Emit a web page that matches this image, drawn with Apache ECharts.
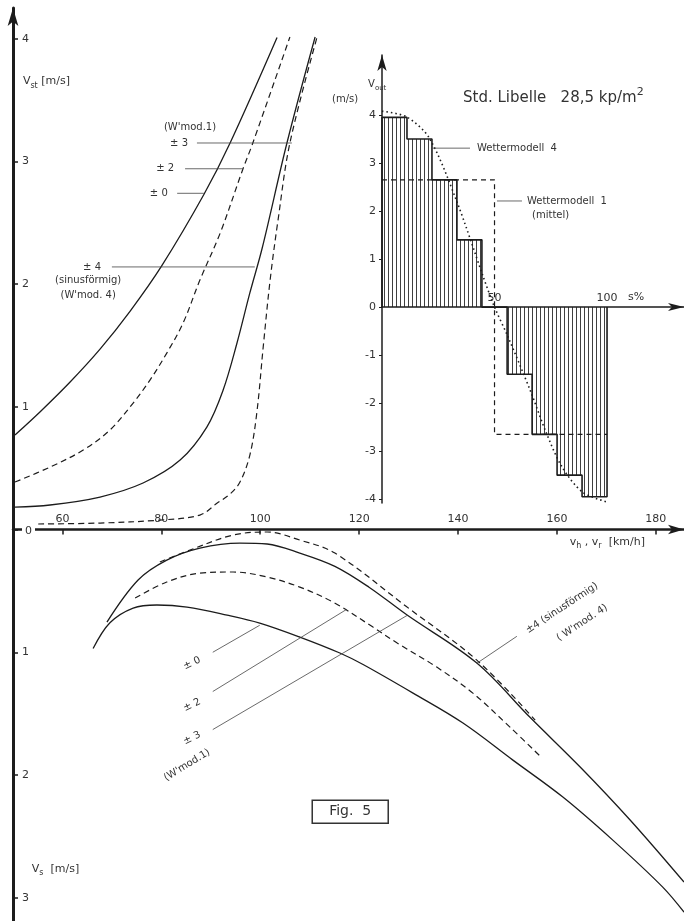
<!DOCTYPE html>
<html><head><meta charset="utf-8">
<script src="https://cdn.jsdelivr.net/npm/echarts@6/dist/echarts.min.js"></script>
<style>html,body{margin:0;padding:0;background:#fff}#c{width:684px;height:921px}</style>
</head><body><div id="c"></div>
<script>
// ---------------- data ----------------
// main chart: x = v [km/h]; upper half Vst [m/s] (positive), lower half Vs [m/s] (plotted negative)
const xTicks = [60, 80, 100, 120, 140, 160, 180];
const yTicksMain = [-3, -2, -1, 0, 1, 2, 3, 4];

// upper curves: Vst
const vst0 = [[50.4,0.77],[55.5,0.96],[61.5,1.20],[67.6,1.47],[73.7,1.78],[80.1,2.15],[88.6,2.73],[93.9,3.15],[103.4,4.01]];
const vst2 = [[50.4,0.387],[57.5,0.509],[64.2,0.648],[69.6,0.811],[74.3,1.031],[77.7,1.218],[81.1,1.438],[84.4,1.683],[87.8,2.033],[91.9,2.416],[96.5,2.938],[98.5,3.150],[106.0,4.014]];
const vst4 = [[50.4,0.183],[57.5,0.200],[67.6,0.265],[76.3,0.379],[83.8,0.566],[89.2,0.835],[92.5,1.137],[95.3,1.520],[97.9,1.928],[100.4,2.294],[105.4,3.150],[111.1,4.014]];
const vst3 = [[55.1,0.045],[67.6,0.053],[79.7,0.077],[87.8,0.118],[91.3,0.216],[93.9,0.29],[95.9,0.387],[97.9,0.607],[99.3,0.949],[100.6,1.487],[102.0,2.033],[103.6,2.522],[106.0,3.150],[111.5,4.014]];

// lower curves: Vs (negative = downward)
const vs0 = [[66.2,-0.97],[69.6,-0.76],[74.3,-0.64],[79.1,-0.615],[85.2,-0.632],[93.3,-0.697],[99.9,-0.762],[108.0,-0.876],[116.1,-1.006],[120.8,-1.10],[130.9,-1.333],[141.0,-1.577],[151.1,-1.879],[161.2,-2.180],[171.3,-2.531],[181.4,-2.914],[185.7,-3.118]];
const vs4 = [[69.0,-0.754],[75.3,-0.411],[81.1,-0.249],[87.8,-0.151],[95.9,-0.110],[101.4,-0.118],[108.0,-0.192],[115.1,-0.30],[122.0,-0.47],[129.7,-0.697],[143.8,-1.088],[154.5,-1.528],[164.7,-1.935],[174.8,-2.367],[185.7,-2.873]];
const vs2 = [[74.7,-0.558],[81.1,-0.428],[87.8,-0.355],[94.5,-0.346],[101.4,-0.387],[108.0,-0.469],[114.7,-0.591],[122.8,-0.795],[127.7,-0.925],[135.7,-1.121],[143.0,-1.333],[150.5,-1.610],[157.0,-1.862]];
const vs3 = [[79.7,-0.265],[85.8,-0.167],[94.5,-0.045],[101.4,-0.02],[108.0,-0.086],[115.1,-0.192],[129.7,-0.632],[143.8,-1.064],[155.6,-1.553]];

// inset: Vout [m/s] versus s [%]
const insetYTicks = [-4, -3, -2, -1, 0, 1, 2, 3, 4];
const insetXTicks = [50, 100];
const wm4Edges  = [0, 11.1, 22.2, 33.3, 44.4, 55.6, 66.7, 77.8, 88.9, 100];
const wm4Levels = [3.95, 3.5, 2.65, 1.4, 0, -1.4, -2.65, -3.5, -3.95];
const wm1S = [0, 50, 100];
const wm1V = [2.65, -2.65, -2.65];
const sinS = [0, 11, 21, 33, 45, 50, 56, 66, 73, 80, 89, 100];
const sinV = [4.08, 3.96, 3.52, 2.23, 0.63, 0, -0.62, -1.75, -2.62, -3.33, -3.85, -4.06];

// ---------------- build ----------------
const FONT = '"DejaVu Sans", "Liberation Sans", sans-serif';
const INK = '#1c1c1c';
const TXT = '#333';

const W = 684, H = 921;
const G0 = {left:13, right:0, top:8, bottom:0};
const G1 = {left:382, right:0, top:55, bottom:418};
const Y0 = {min:-3.19, max:4.25};
const Y1 = {min:-4.08, max:5.25};
// shift the x axes up to the zero line of their y axes
const off0 = -((0 - Y0.min) / (Y0.max - Y0.min)) * (H - G0.top - G0.bottom);
const off1 = -((0 - Y1.min) / (Y1.max - Y1.min)) * (H - G1.top - G1.bottom);

// step outline for Wettermodell 4 (step 'end')
const wm4Data = [[wm4Edges[0], 0]];
for (let i = 0; i < wm4Levels.length; i++) wm4Data.push([wm4Edges[i], wm4Levels[i]]);
wm4Data.push([wm4Edges[wm4Edges.length - 1], wm4Levels[wm4Levels.length - 1]]);
wm4Data.push([wm4Edges[wm4Edges.length - 1], 0]);
const wm1Data = wm1S.map((s, i) => [s, wm1V[i]]);
const sinData = sinS.map((s, i) => [s, sinV[i]]);

// vertical hatching pattern
const pc = document.createElement('canvas');
pc.width = 4; pc.height = 4;
const pg = pc.getContext('2d');
pg.fillStyle = 'rgba(30,30,30,0.85)';
pg.fillRect(0, 0, 1, 4);

const solid = (data) => ({type:'line', xAxisIndex:0, yAxisIndex:0, data, showSymbol:false, smooth:0.35,
  lineStyle:{color:INK, width:1.3}, z:3});
const dashed = (data) => ({type:'line', xAxisIndex:0, yAxisIndex:0, data, showSymbol:false, smooth:0.35,
  lineStyle:{color:INK, width:1.2, type:[6,4]}, z:3});

const option = {
  backgroundColor: '#fff',
  animation: false,
  grid: [G0, G1],
  xAxis: [
    {type:'value', gridIndex:0, min:50, max:185.7, position:'bottom', offset:off0,
      axisLine:{show:true, onZero:false, symbol:['none','arrow'], symbolSize:[7,16], lineStyle:{color:INK, width:2.5}},
      axisTick:{show:true, inside:false, length:5, customValues:xTicks, lineStyle:{color:INK, width:1.5}},
      axisLabel:{show:true, inside:true, customValues:xTicks, margin:5, fontSize:11, color:TXT, fontFamily:FONT},
      splitLine:{show:false}},
    {type:'value', gridIndex:1, min:0, max:134.2, position:'bottom', offset:off1,
      axisLine:{show:true, onZero:false, symbol:['none','arrow'], symbolSize:[6,16], lineStyle:{color:INK, width:1.5}},
      axisTick:{show:false},
      axisLabel:{show:true, inside:true, customValues:insetXTicks, margin:3, fontSize:11, color:TXT, fontFamily:FONT},
      splitLine:{show:false}}
  ],
  yAxis: [
    {type:'value', gridIndex:0, min:Y0.min, max:Y0.max,
      axisLine:{show:true, onZero:false, symbol:['none','arrow'], symbolSize:[8,18], lineStyle:{color:INK, width:3}},
      axisTick:{show:true, inside:true, length:5, customValues:yTicksMain, lineStyle:{color:INK, width:1.5}},
      axisLabel:{show:true, inside:true, customValues:yTicksMain, margin:9, fontSize:11, color:TXT, fontFamily:FONT,
        formatter:(v)=> v === 0 ? '{z|0}' : String(Math.abs(v)),
        rich:{z:{backgroundColor:'#fff', padding:[3,3,0,3], fontSize:11, color:TXT, fontFamily:FONT}}},
      splitLine:{show:false}, z:5},
    {type:'value', gridIndex:1, min:Y1.min, max:Y1.max,
      axisLine:{show:true, onZero:false, symbol:['none','arrow'], symbolSize:[7,16], lineStyle:{color:INK, width:1.5}},
      axisTick:{show:true, inside:false, length:3, customValues:insetYTicks, lineStyle:{color:INK}},
      axisLabel:{show:true, customValues:insetYTicks, margin:6, fontSize:11, color:TXT, fontFamily:FONT},
      splitLine:{show:false}}
  ],
  series: [
    solid(vst0), dashed(vst2), solid(vst4), dashed(vst3),
    solid(vs0), dashed(vs2), solid(vs4), dashed(vs3),
    {type:'line', xAxisIndex:1, yAxisIndex:1, data:wm4Data, step:'end', showSymbol:false,
      lineStyle:{color:INK, width:1.6}, areaStyle:{color:{image:pc, repeat:'repeat'}, opacity:1, origin:0}, z:2},
    {type:'line', xAxisIndex:1, yAxisIndex:1, data:wm1Data, step:'end', showSymbol:false,
      lineStyle:{color:INK, width:1.2, type:[5,4]}, z:3},
    {type:'line', xAxisIndex:1, yAxisIndex:1, data:sinData, showSymbol:false, smooth:0.3,
      lineStyle:{color:INK, width:1.6, type:[1.5,3]}, z:4}
  ]
};

const chart = echarts.init(document.getElementById('c'), null, {renderer:'canvas'});
chart.setOption(option);

// ---------------- annotations (positions in data units, converted by the axes) ----------------
const P = (x, y) => chart.convertToPixel({gridIndex:0}, [x, y]);
const Q = (x, y) => chart.convertToPixel({gridIndex:1}, [x, y]);
const mctx = document.createElement('canvas').getContext('2d');
const tw = (t, fs) => { mctx.font = fs + 'px ' + FONT; return mctx.measureText(t).width; };

const G = [];
function txt(pt, text, fs, align, rot, extra) {
  G.push(Object.assign({type:'text', x:pt[0], y:pt[1], rotation:rot || 0, z:10,
    style:{text, fontSize:fs, fontFamily:FONT, fill:TXT, align:align || 'left', verticalAlign:'middle',
      textAlign:align || 'left', textVerticalAlign:'middle'}}, extra || {}));
}
// sequence of [text, kind] where kind: 0 normal, 1 subscript, 2 superscript
function seq(pt, parts, fs) {
  let x = pt[0];
  parts.forEach(([t, k]) => {
    const f = k ? Math.round(fs * 0.7) : fs;
    const dy = k === 1 ? fs * 0.35 : (k === 2 ? -fs * 0.4 : 0);
    txt([x, pt[1] + dy], t, f, 'left');
    x += tw(t, f);
  });
}
function line(a, b, w) {
  G.push({type:'line', z:9, shape:{x1:a[0], y1:a[1], x2:b[0], y2:b[1]}, style:{stroke:'#444', lineWidth:w || 0.8}});
}

// upper part
seq(P(52.0, 3.65), [['V',0],['st',1],[' [m/s]',0]], 11);
txt(P(85.8, 3.28), "(W'mod.1)", 10, 'center');
txt(P(85.4, 3.15), '± 3', 10, 'right'); line(P(87.2, 3.15), P(106.4, 3.15));
txt(P(82.6, 2.94), '± 2', 10, 'right'); line(P(84.8, 2.94), P(96.5, 2.94));
txt(P(81.3, 2.74), '± 0', 10, 'right'); line(P(83.2, 2.74), P(88.6, 2.74));
txt(P(67.8, 2.14), '± 4', 10, 'right'); line(P(70.0, 2.14), P(98.9, 2.14));
txt(P(65.2, 2.03), '(sinusförmig)', 10, 'center');
txt(P(65.2, 1.91), "(W'mod. 4)", 10, 'center');

// lower part
txt(P(86.2, -1.09), '± 0', 10, 'center', 0.45); line(P(90.4, -1.0), P(99.9, -0.78));
txt(P(86.2, -1.43), '± 2', 10, 'center', 0.45); line(P(90.4, -1.32), P(117.5, -0.65));
txt(P(86.2, -1.70), '± 3', 10, 'center', 0.45); line(P(90.4, -1.63), P(129.7, -0.70));
txt(P(85.2, -1.92), "(W'mod.1)", 10, 'center', 0.55);
txt(P(161.0, -0.64), '±4 (sinusförmig)', 10, 'center', 0.58);
txt(P(165.1, -0.76), "( W'mod. 4)", 10, 'center', 0.58);
line(P(143.8, -1.09), P(151.9, -0.87));
const fc = P(118.2, -2.30);
G.push({type:'rect', z:9, shape:{x:fc[0]-38, y:fc[1]-11.5, width:76, height:23}, style:{fill:'#fff', stroke:'#333', lineWidth:1.5}});
txt(fc, 'Fig.  5', 14, 'center');
seq(P(53.8, -2.77), [['V',0],['s',1],['  [m/s]',0]], 11);
seq(P(162.6, -0.10), [['v',0],['h',1],[' , v',0],['r',1],['  [km/h]',0]], 11);

// inset
seq(Q(36, 4.35), [['Std. Libelle   28,5 kp/m',0],['2',2]], 15);
seq(Q(-6.2, 4.63), [['V',0],['out',1]], 10);
txt(Q(-22.2, 4.33), '(m/s)', 10, 'left');
txt(Q(42.2, 3.31), 'Wettermodell  4', 10, 'left'); line(Q(22.2, 3.31), Q(39.1, 3.31));
txt(Q(64.4, 2.21), 'Wettermodell  1', 10, 'left'); line(Q(51.1, 2.21), Q(62.2, 2.21));
txt(Q(66.7, 1.90), '(mittel)', 10, 'left');
const sp = Q(109.3, 0); txt([sp[0], sp[1] - 10], 's%', 11, 'left');

chart.setOption({graphic:{elements:G}});
</script>
</body></html>
